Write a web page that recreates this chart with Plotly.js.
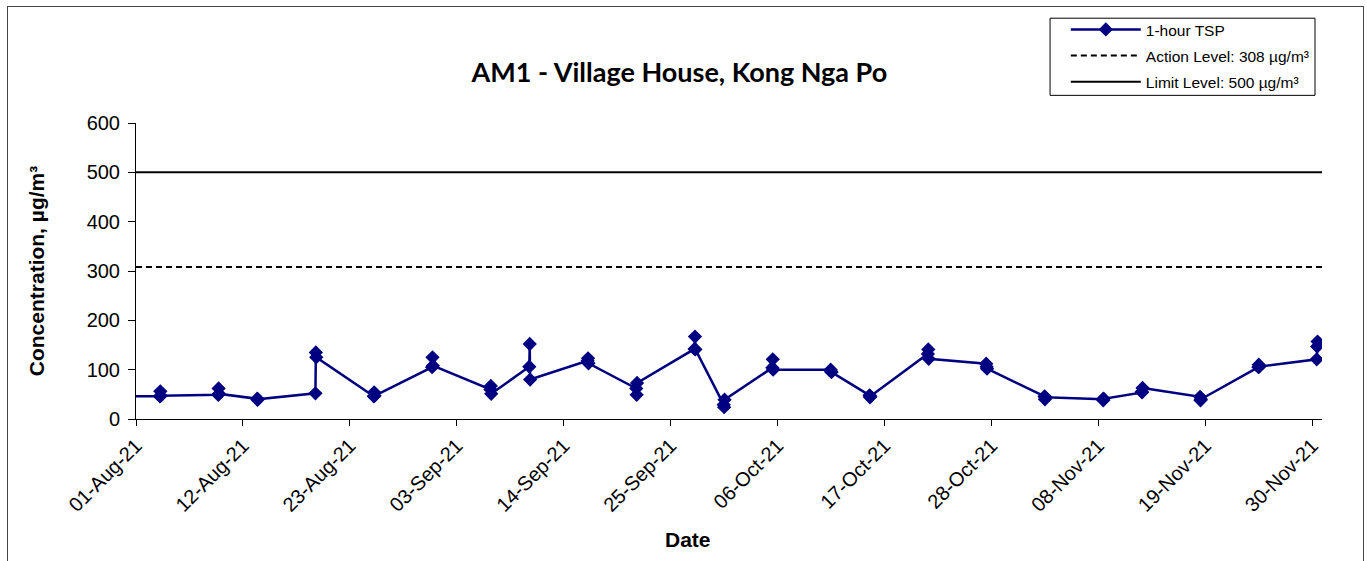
<!DOCTYPE html>
<html>
<head>
<meta charset="utf-8">
<script src="https://cdn.plot.ly/plotly-3.0.1.min.js"></script>
<style>
  html, body { margin: 0; padding: 0; background: #fff; }
  #chart { width: 1367px; height: 561px; }
  #frame { position: absolute; left: 7px; top: 6px; width: 1355px; height: 600px;
           border: 1.5px solid #444; pointer-events: none; }
</style>
</head>
<body>
<div id="chart"></div>
<div id="frame"></div>
<script>
// 1-hour TSP samples (three per monitoring day, first point is the last July sample)
const sampleTimes = [
  '2021-07-28 13:00',
  '2021-08-03 11:00', '2021-08-03 12:00', '2021-08-03 13:00',
  '2021-08-09 11:00', '2021-08-09 12:00', '2021-08-09 13:00',
  '2021-08-13 11:00', '2021-08-13 12:00', '2021-08-13 13:00',
  '2021-08-19 11:00', '2021-08-19 12:00', '2021-08-19 13:00',
  '2021-08-25 11:00', '2021-08-25 12:00', '2021-08-25 13:00',
  '2021-08-31 11:00', '2021-08-31 12:00', '2021-08-31 13:00',
  '2021-09-06 11:00', '2021-09-06 12:00', '2021-09-06 13:00',
  '2021-09-10 11:00', '2021-09-10 12:00', '2021-09-10 13:00',
  '2021-09-16 11:00', '2021-09-16 12:00', '2021-09-16 13:00',
  '2021-09-21 11:00', '2021-09-21 12:00', '2021-09-21 13:00',
  '2021-09-27 11:00', '2021-09-27 12:00', '2021-09-27 13:00',
  '2021-09-30 11:00', '2021-09-30 12:00', '2021-09-30 13:00',
  '2021-10-05 11:00', '2021-10-05 12:00', '2021-10-05 13:00',
  '2021-10-11 11:00', '2021-10-11 12:00', '2021-10-11 13:00',
  '2021-10-15 11:00', '2021-10-15 12:00', '2021-10-15 13:00',
  '2021-10-21 11:00', '2021-10-21 12:00', '2021-10-21 13:00',
  '2021-10-27 11:00', '2021-10-27 12:00', '2021-10-27 13:00',
  '2021-11-02 11:00', '2021-11-02 12:00', '2021-11-02 13:00',
  '2021-11-08 11:00', '2021-11-08 12:00', '2021-11-08 13:00',
  '2021-11-12 11:00', '2021-11-12 12:00', '2021-11-12 13:00',
  '2021-11-18 11:00', '2021-11-18 12:00', '2021-11-18 13:00',
  '2021-11-24 11:00', '2021-11-24 12:00', '2021-11-24 13:00',
  '2021-11-30 11:00', '2021-11-30 12:00', '2021-11-30 13:00'
];
const tspValues = [
  46,
  46, 56, 47,
  49, 62, 51,
  41, 39, 40,
  52, 135, 125,
  46, 54, 47,
  105, 125, 108,
  60, 67, 51,
  106, 152, 80,
  118, 123, 113,
  62, 49, 73,
  142, 167, 141,
  29, 24, 39,
  104, 121, 100,
  100, 97, 95,
  48, 44, 46,
  132, 141, 122,
  112, 106, 102,
  46, 40, 44,
  40, 38, 41,
  55, 54, 63,
  45, 38, 40,
  105, 110, 106,
  121, 147, 157
];
const actionLevel = 308;
const limitLevel = 500;
const xRange = ['2021-08-01', '2021-12-01'];
const yTicks = [0, 100, 200, 300, 400, 500, 600];

const FONT = '"Liberation Sans", Arial, sans-serif';

const traces = [
  {
    x: sampleTimes, y: tspValues, type: 'scatter', mode: 'lines+markers',
    name: '1-hour TSP', legendgroup: 'a',
    line: { color: '#000080', width: 2.5 },
    marker: { symbol: 'diamond', size: 11, color: '#000080' }
  },
  {
    x: xRange, y: [actionLevel, actionLevel], type: 'scatter', mode: 'lines',
    name: 'Action Level: 308 µg/m³', legendgroup: 'b',
    line: { color: '#000', width: 2, dash: '6px,4px' }
  },
  {
    x: xRange, y: [limitLevel, limitLevel], type: 'scatter', mode: 'lines',
    name: 'Limit Level: 500 µg/m³', legendgroup: 'c',
    line: { color: '#000', width: 2 }
  }
];

const layout = {
  width: 1367, height: 561,
  margin: { l: 136, r: 45, t: 123, b: 142 },
  paper_bgcolor: '#fff', plot_bgcolor: '#fff',
  font: { family: FONT, color: '#000', size: 20 },
  title: {
    text: '<b>AM1 - Village House, Kong Nga Po</b>',
    font: { family: 'Lato, "Open Sans", sans-serif', size: 27, color: '#000' },
    xref: 'container', x: 0.497, yref: 'container', y: 0.87, yanchor: 'middle'
  },
  xaxis: {
    type: 'date', range: xRange,
    tick0: xRange[0], dtick: 11 * 86400000, tickformat: '%d-%b-%y',
    tickangle: -45, ticks: 'outside', ticklen: 6, tickcolor: '#000',
    showline: true, linecolor: '#000', linewidth: 1,
    showgrid: false, zeroline: false,
    tickfont: { family: FONT, size: 20 }
  },
  yaxis: {
    range: [0, 600], tickvals: yTicks,
    ticks: 'outside', ticklen: 7, tickcolor: '#000', ticklabelstandoff: 4,
    showline: true, linecolor: '#000', linewidth: 1,
    showgrid: false, zeroline: false,
    tickfont: { family: FONT, size: 20 },
    title: { text: '<b>Concentration, µg/m³</b>', font: { family: FONT, size: 21 }, standoff: 36 }
  },
  annotations: [{
    text: '<b>Date</b>', xref: 'paper', yref: 'paper', x: 0.4654, y: -0.407,
    yanchor: 'middle', showarrow: false, font: { family: FONT, size: 21 }
  }],
  shapes: [{
    type: 'rect', xref: 'paper', yref: 'paper',
    x0: 0.7707, x1: 0.9941, y0: 1.0934, y1: 1.354,
    line: { color: '#000', width: 1 }, fillcolor: '#fff', layer: 'below'
  }],
  showlegend: true,
  legend: {
    x: 0.784, y: 1.372, xanchor: 'left', yanchor: 'top',
    bgcolor: 'rgba(0,0,0,0)', borderwidth: 0,
    font: { family: FONT, size: 15.5 }, itemwidth: 70, tracegroupgap: 3
  },
  hovermode: false
};

Plotly.newPlot('chart', traces, layout, { displayModeBar: false, staticPlot: true });
</script>
</body>
</html>
